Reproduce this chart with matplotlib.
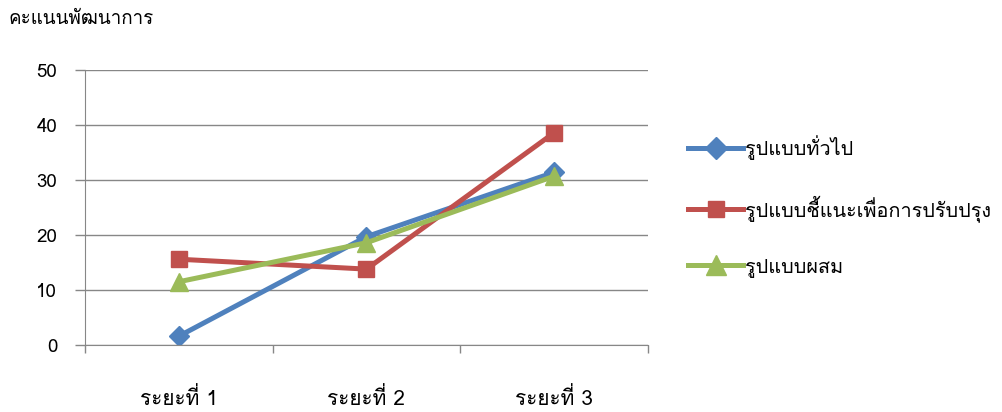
import matplotlib
matplotlib.use("Agg")
import matplotlib.pyplot as plt
from matplotlib import font_manager
from matplotlib.ft2font import FT2Font

# data
periods = ["ระยะที่ 1", "ระยะที่ 2", "ระยะที่ 3"]
general = [1.6, 19.7, 31.4]
guided = [15.6, 13.8, 38.6]
mixed = [11.5, 18.6, 30.7]
series_names = ["รูปแบบทั่วไป", "รูปแบบชี้แนะเพื่อการปรับปรุง", "รูปแบบผสม"]
y_label = "คะแนนพัฒนาการ"

# find an installed font that has Thai glyphs
thai_font = None
for f in font_manager.fontManager.ttflist:
    try:
        if ord("ก") in FT2Font(f.fname).get_charmap():
            thai_font = f.name
            break
    except Exception:
        pass
families = [thai_font, "DejaVu Sans"] if thai_font else ["DejaVu Sans"]
plt.rcParams["font.family"] = families

grey = "#878787"
fig = plt.figure(figsize=(10.02, 4.12), dpi=100)
ax = fig.add_axes([0.0848, 0.1626, 0.5619, 0.6674])

x = list(range(len(periods)))
ax.plot(x, general, color="#4F81BD", lw=3.6, marker="D", ms=10, label=series_names[0])
ax.plot(x, guided, color="#C0504D", lw=3.6, marker="s", ms=11, label=series_names[1])
ax.plot(x, mixed, color="#9BBB59", lw=3.6, marker="^", ms=13, label=series_names[2])

ax.set_xlim(-0.5, 2.5)
ax.set_ylim(0, 50)
ax.set_yticks([0, 10, 20, 30, 40, 50])
ax.set_xticks(x)
ax.set_xticklabels(periods)
ax.set_xticks([-0.5, 0.5, 1.5, 2.5], minor=True)

ax.grid(axis="y", color=grey, lw=1)
ax.set_axisbelow(True)
for s in ["top", "right"]:
    ax.spines[s].set_visible(False)
for s in ["left", "bottom"]:
    ax.spines[s].set_color(grey)

ax.tick_params(axis="x", which="major", length=0, pad=30, labelsize=15, colors="black")
ax.tick_params(axis="x", which="minor", length=6, width=1, color=grey)
ax.tick_params(axis="y", length=7, width=1, color=grey, pad=13, labelsize=13.5)

fig.text(0.008, 0.955, y_label, fontsize=13.5, ha="left", va="center")

ax.legend(loc="center left", bbox_to_anchor=(0.677, 0.5), bbox_transform=fig.transFigure,
          frameon=False, fontsize=14.3, handlelength=2.75, handletextpad=0.1,
          labelspacing=1.75, borderpad=0, markerscale=1.1)

fig.savefig("out.png", dpi=100)
